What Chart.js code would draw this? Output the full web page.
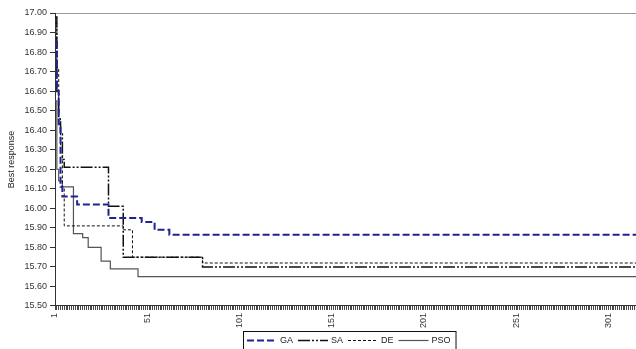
<!DOCTYPE html>
<html>
<head>
<meta charset="utf-8">
<script src="https://cdn.jsdelivr.net/npm/chart.js@4/dist/chart.umd.min.js"></script>
<style>
  html, body { margin: 0; padding: 0; background: #fff; overflow: hidden; }
  #wrap { position: relative; width: 636px; height: 349px; }
</style>
</head>
<body>
<div id="wrap"><canvas id="c"></canvas></div>
<script>
// x axis: iteration number, labelled every 50 iterations
const iterationTicks = ['1', '51', '101', '151', '201', '251', '301'];
const lastIteration = 316;

// Best response found so far, listed at the iterations where it improves
const gaIter  = [1, 2, 3, 4, 5, 13, 30, 48, 55, 63];
const gaBest  = [16.85, 16.60, 16.43, 16.11, 16.06, 16.02, 15.95, 15.93, 15.89, 15.865];

const saIter  = [1, 2, 3, 4, 5, 6, 30, 38, 81];
const saBest  = [16.98, 16.60, 16.45, 16.38, 16.25, 16.21, 16.01, 15.75, 15.70];

const deIter  = [1, 2, 3, 4, 5, 6, 38, 43, 81];
const deBest  = [16.95, 16.72, 16.46, 16.30, 16.10, 15.91, 15.89, 15.75, 15.72];

const psoIter = [1, 2, 3, 5, 11, 16, 19, 26, 31, 46];
const psoBest = [16.55, 16.20, 16.14, 16.11, 15.87, 15.85, 15.80, 15.73, 15.69, 15.65];

const FONT = '"Liberation Sans", Arial, sans-serif';

// pair iterations with values; the last value holds until the final iteration
function track(iters, vals) {
  const pts = iters.map((it, i) => ({ x: it, y: vals[i] }));
  pts.push({ x: lastIteration, y: vals[vals.length - 1] });
  return pts;
}

// boxed legend drawn under the plot, one line sample per series
const boxedLegend = {
  id: 'boxedLegend',
  afterDraw(chart) {
    const ctx = chart.ctx;
    const left = 243, top = 331, sample = 30, gap = 3, after = 5;
    const midY = 340.5;
    ctx.save();
    ctx.font = '9px ' + FONT;
    ctx.textBaseline = 'middle';
    let x = left + 4;
    chart.data.datasets.forEach(ds => {
      ctx.save();
      ctx.strokeStyle = ds.borderColor;
      ctx.lineWidth = ds.borderWidth;
      ctx.setLineDash(ds.borderDash || []);
      ctx.beginPath();
      ctx.moveTo(x, midY);
      ctx.lineTo(x + sample, midY);
      ctx.stroke();
      ctx.restore();
      x += sample + gap;
      ctx.fillStyle = '#222';
      ctx.fillText(ds.label, x, midY);
      x += ctx.measureText(ds.label).width + after;
    });
    ctx.strokeStyle = '#111';
    ctx.lineWidth = 1;
    ctx.strokeRect(left + 0.5, top + 0.5, x - left, 30);
    ctx.restore();
  }
};

new Chart(document.getElementById('c'), {
  type: 'line',
  data: {
    datasets: [
      { label: 'GA', data: track(gaIter, gaBest), borderColor: '#1f2290', borderWidth: 2, borderDash: [7, 3] },
      { label: 'SA', data: track(saIter, saBest), borderColor: '#111', borderWidth: 1.5, borderDash: [12, 2, 2, 2, 2, 2] },
      { label: 'DE', data: track(deIter, deBest), borderColor: '#111', borderWidth: 1, borderDash: [3, 2] },
      { label: 'PSO', data: track(psoIter, psoBest), borderColor: '#555', borderWidth: 1.2, borderDash: [] }
    ].map(ds => Object.assign(ds, { stepped: 'before', pointRadius: 0, fill: false, tension: 0 }))
  },
  options: {
    animation: false,
    responsive: true,
    maintainAspectRatio: false,
    events: [],
    layout: { padding: { top: 13, right: 0, bottom: 18, left: 0 } },
    plugins: { legend: { display: false }, tooltip: { enabled: false } },
    scales: {
      x: {
        type: 'linear',
        min: 1,
        max: lastIteration,
        afterFit(scale) { scale.paddingLeft = 0; scale.paddingRight = 0; },
        ticks: {
          stepSize: 1,
          autoSkip: false,
          maxTicksLimit: 1000,
          minRotation: 90,
          maxRotation: 90,
          padding: 3,
          color: '#333',
          font: { family: FONT, size: 9 },
          callback: v => iterationTicks.includes(String(v)) ? String(v) : ''
        },
        grid: { drawOnChartArea: false, tickLength: 4, color: '#444', lineWidth: 1 },
        border: { color: '#333', width: 1 }
      },
      y: {
        min: 15.5,
        max: 17,
        afterFit(scale) { scale.width = 55; },
        ticks: {
          stepSize: 0.1,
          padding: 3,
          color: '#333',
          font: { family: FONT, size: 9 },
          callback: v => Number(v).toFixed(2)
        },
        grid: {
          color: c => (c.tick && Math.abs(c.tick.value - 17) < 1e-6) ? '#999' : 'rgba(0,0,0,0)',
          tickColor: '#333',
          tickLength: 5
        },
        border: { color: '#333', width: 1 },
        title: { display: true, text: 'Best response', color: '#222', font: { family: FONT, size: 9 }, padding: { top: 6, bottom: 2 } }
      }
    }
  },
  plugins: [boxedLegend]
});
</script>
</body>
</html>
